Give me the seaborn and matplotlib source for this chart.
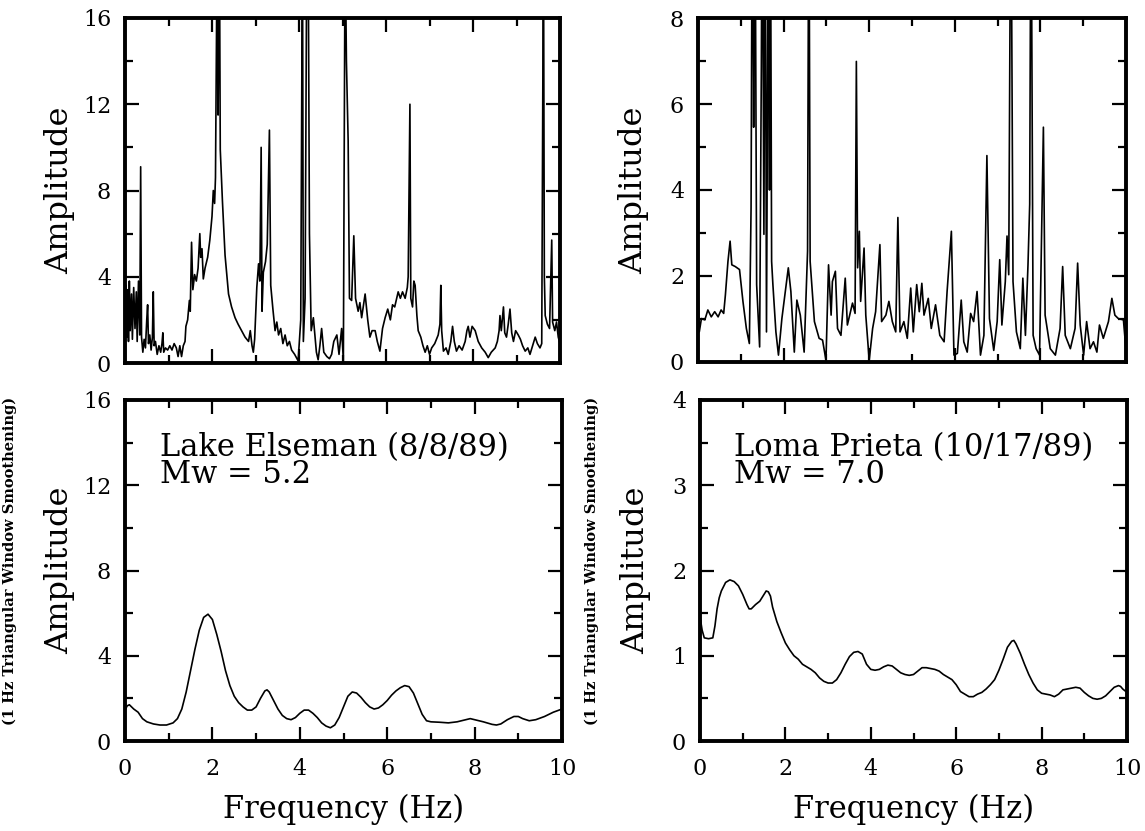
import numpy as np
import pandas as pd
import matplotlib
matplotlib.use("Agg")
import matplotlib.pyplot as plt
import seaborn as sns
from matplotlib.ticker import MultipleLocator

# ---------------- data ----------------
# Lake Elseman, raw Fourier amplitude spectrum (values above 16 are clipped peaks)
le_raw_freq = [0.00, 0.02, 0.04, 0.06, 0.08, 0.10, 0.12, 0.15, 0.17, 0.20, 0.23, 0.26, 0.28, 0.31, 0.34,
               0.36, 0.38, 0.41, 0.44, 0.47, 0.50, 0.52, 0.54, 0.57, 0.60, 0.63, 0.65, 0.67, 0.70, 0.74,
               0.78, 0.82, 0.85, 0.87, 0.89, 0.93, 0.98, 1.03, 1.08, 1.13, 1.18, 1.22, 1.26, 1.30, 1.34,
               1.38, 1.40, 1.44, 1.48, 1.50, 1.53, 1.56, 1.60, 1.64, 1.68, 1.72, 1.74, 1.77, 1.80, 1.84,
               1.90, 1.95, 2.00, 2.03, 2.06, 2.08, 2.12, 2.14, 2.17, 2.19, 2.24, 2.30, 2.38, 2.45, 2.53,
               2.60, 2.68, 2.76, 2.84, 2.88, 2.92, 2.95, 2.98, 3.03, 3.07, 3.10, 3.13, 3.15, 3.18, 3.23,
               3.27, 3.32, 3.35, 3.40, 3.45, 3.49, 3.53, 3.58, 3.63, 3.68, 3.73, 3.78, 3.83, 3.90, 3.98,
               4.04, 4.08, 4.10, 4.14, 4.18, 4.21, 4.24, 4.28, 4.33, 4.40, 4.44, 4.48, 4.52, 4.57, 4.64,
               4.70, 4.75, 4.80, 4.87, 4.92, 4.98, 5.02, 5.06, 5.09, 5.13, 5.16, 5.21, 5.26, 5.30, 5.36,
               5.40, 5.44, 5.52, 5.58, 5.63, 5.68, 5.75, 5.80, 5.86, 5.92, 5.98, 6.04, 6.10, 6.15, 6.20,
               6.28, 6.33, 6.38, 6.44, 6.49, 6.51, 6.55, 6.57, 6.61, 6.64, 6.67, 6.71, 6.74, 6.80, 6.85,
               6.90, 6.95, 7.00, 7.05, 7.12, 7.20, 7.24, 7.26, 7.28, 7.32, 7.38, 7.43, 7.49, 7.53, 7.57,
               7.62, 7.68, 7.75, 7.82, 7.86, 7.89, 7.93, 7.98, 8.05, 8.12, 8.20, 8.28, 8.35, 8.42, 8.51,
               8.56, 8.60, 8.62, 8.65, 8.70, 8.73, 8.77, 8.81, 8.85, 8.89, 8.93, 8.98, 9.04, 9.09, 9.14,
               9.20, 9.26, 9.31, 9.37, 9.43, 9.48, 9.54, 9.58, 9.62, 9.64, 9.66, 9.71, 9.76, 9.81, 9.83,
               9.88, 9.92, 9.96, 10.00]
le_raw_amp = [1.5, 3.6, 1.2, 3.4, 1.0, 3.8, 1.5, 3.2, 1.1, 3.5, 1.6, 3.3, 1.0, 3.8, 1.3,
              9.1, 1.2, 0.5, 1.1, 0.7, 2.0, 2.7, 0.9, 1.3, 0.6, 1.2, 3.3, 0.8, 1.0, 0.4,
              0.8, 0.5, 0.9, 1.4, 0.5, 0.7, 0.6, 0.8, 0.6, 0.9, 0.7, 0.3, 0.8, 0.3, 0.8,
              1.0, 1.7, 2.0, 2.9, 2.4, 5.6, 3.4, 4.1, 3.8, 4.4, 6.0, 4.9, 5.3, 3.9, 4.4,
              4.9, 5.7, 6.8, 8.0, 7.4, 8.6, 20.0, 11.5, 20.0, 9.9, 7.5, 5.0, 3.2, 2.6, 2.1,
              1.8, 1.5, 1.2, 1.0, 1.5, 0.8, 0.5, 1.1, 3.5, 4.6, 3.8, 10.0, 2.4, 4.2, 4.7,
              5.5, 10.8, 3.6, 2.5, 1.5, 1.9, 1.3, 1.6, 0.9, 1.3, 0.8, 1.0, 0.6, 0.4, 0.1,
              2.0, 20.0, 1.0, 3.0, 20.0, 20.0, 6.0, 1.5, 2.1, 0.5, 0.15, 0.8, 1.6, 0.5, 0.3,
              0.2, 0.4, 1.0, 1.3, 0.4, 1.6, 0.1, 20.0, 14.0, 10.3, 3.0, 2.9, 5.9, 3.0, 2.4,
              2.8, 2.1, 3.2, 2.0, 1.2, 1.5, 1.5, 1.0, 0.55, 1.6, 2.1, 2.5, 2.0, 2.7, 2.6,
              3.3, 3.0, 3.3, 3.0, 3.5, 4.0, 12.0, 3.0, 2.6, 3.8, 3.6, 2.2, 1.5, 1.2, 0.8,
              0.5, 0.8, 0.4, 0.7, 0.9, 1.3, 1.8, 3.6, 1.5, 0.55, 0.7, 0.4, 1.0, 1.7, 1.0,
              0.55, 0.8, 0.6, 1.0, 1.5, 1.7, 1.2, 1.7, 1.5, 1.0, 0.7, 0.5, 0.25, 0.5, 0.7,
              1.0, 1.5, 2.2, 1.5, 2.6, 1.4, 1.2, 1.8, 2.5, 1.4, 1.0, 1.5, 1.3, 1.1, 0.8,
              0.55, 0.7, 0.4, 0.8, 1.2, 0.9, 0.7, 0.9, 20.0, 4.0, 2.2, 1.8, 1.6, 5.7, 1.9,
              1.5, 1.9, 1.2, 0.9]

# Loma Prieta, raw Fourier amplitude spectrum (values above 8 are clipped peaks)
lp_raw_freq = [0.00, 0.03, 0.08, 0.16, 0.23, 0.31, 0.39, 0.47, 0.54, 0.60, 0.64, 0.70, 0.75, 0.79, 0.87,
               0.97, 1.05, 1.13, 1.20, 1.24, 1.27, 1.30, 1.33, 1.37, 1.44, 1.48, 1.50, 1.54, 1.57, 1.60,
               1.65, 1.67, 1.69, 1.72, 1.75, 1.82, 1.88, 1.96, 2.06, 2.11, 2.17, 2.25, 2.31, 2.39, 2.48,
               2.56, 2.59, 2.62, 2.72, 2.83, 2.91, 2.99, 3.05, 3.11, 3.14, 3.21, 3.26, 3.34, 3.44, 3.49,
               3.61, 3.67, 3.70, 3.73, 3.77, 3.80, 3.88, 3.92, 4.00, 4.08, 4.15, 4.25, 4.29, 4.39, 4.46,
               4.54, 4.62, 4.67, 4.72, 4.81, 4.89, 4.97, 5.03, 5.11, 5.17, 5.23, 5.28, 5.38, 5.45, 5.55,
               5.65, 5.75, 5.82, 5.92, 5.98, 6.06, 6.15, 6.21, 6.29, 6.37, 6.44, 6.52, 6.60, 6.68, 6.75,
               6.81, 6.91, 6.99, 7.05, 7.10, 7.18, 7.22, 7.26, 7.31, 7.36, 7.44, 7.53, 7.59, 7.65, 7.71,
               7.75, 7.78, 7.83, 7.90, 7.98, 8.07, 8.11, 8.23, 8.35, 8.46, 8.52, 8.58, 8.70, 8.81, 8.87,
               8.93, 9.01, 9.08, 9.16, 9.24, 9.32, 9.38, 9.47, 9.59, 9.67, 9.74, 9.82, 9.94, 10.00]
lp_raw_amp = [1.72, 0.70, 1.01, 0.98, 1.21, 1.05, 1.17, 1.05, 1.21, 1.13, 1.56, 2.34, 2.81, 2.26, 2.22,
              2.15, 1.41, 0.78, 0.43, 3.59, 12.0, 5.46, 12.0, 1.80, 0.35, 6.87, 12.0, 2.97, 12.0, 0.70,
              12.0, 4.00, 12.0, 2.34, 1.80, 0.70, 0.16, 1.01, 1.80, 2.19, 1.64, 0.23, 1.44, 1.09, 0.23,
              2.58, 12.0, 2.34, 0.94, 0.55, 0.51, 0.04, 2.26, 1.09, 1.87, 2.11, 0.78, 0.62, 1.95, 0.86,
              1.37, 1.13, 6.99, 2.19, 3.04, 1.41, 2.65, 1.09, 0.04, 0.78, 1.17, 2.73, 0.94, 1.09, 1.41,
              0.94, 0.70, 3.36, 0.70, 0.94, 0.55, 1.72, 0.70, 1.80, 1.17, 1.83, 1.09, 1.48, 0.78, 1.33,
              0.62, 0.47, 1.64, 3.04, 0.16, 0.20, 1.44, 0.47, 0.23, 1.13, 0.94, 1.64, 0.16, 0.62, 4.80,
              1.01, 0.27, 0.94, 2.38, 0.86, 1.87, 2.93, 2.03, 12.0, 1.87, 0.70, 0.31, 1.95, 0.62, 2.26,
              3.67, 12.0, 0.62, 0.31, 0.16, 5.46, 1.09, 0.31, 0.16, 0.78, 2.22, 0.62, 0.31, 0.78, 2.30,
              0.86, 0.16, 0.94, 0.31, 0.47, 0.23, 0.86, 0.55, 0.94, 1.48, 1.09, 1.01, 0.98, 0.27]

# Lake Elseman, 1 Hz triangular-window smoothed spectrum
le_smooth_freq = [0.00, 0.05, 0.10, 0.20, 0.30, 0.40, 0.50, 0.65, 0.80, 0.95, 1.10, 1.20, 1.30, 1.40,
                  1.50, 1.60, 1.70, 1.80, 1.90, 2.00, 2.10, 2.20, 2.30, 2.40, 2.50, 2.60, 2.70, 2.80,
                  2.90, 3.00, 3.10, 3.20, 3.25, 3.30, 3.40, 3.50, 3.60, 3.70, 3.80, 3.90, 4.00, 4.10,
                  4.20, 4.30, 4.40, 4.50, 4.60, 4.70, 4.80, 4.90, 5.00, 5.10, 5.20, 5.30, 5.40, 5.50,
                  5.60, 5.70, 5.80, 5.90, 6.00, 6.10, 6.20, 6.30, 6.40, 6.50, 6.60, 6.70, 6.80, 6.90,
                  7.00, 7.20, 7.40, 7.60, 7.80, 7.90, 8.00, 8.20, 8.40, 8.50, 8.60, 8.75, 8.90, 9.00,
                  9.10, 9.25, 9.40, 9.60, 9.80, 10.00]
le_smooth_amp = [1.45, 1.65, 1.70, 1.50, 1.35, 1.05, 0.90, 0.80, 0.75, 0.75, 0.85, 1.05, 1.50, 2.30,
                 3.30, 4.30, 5.20, 5.80, 5.95, 5.70, 5.00, 4.20, 3.30, 2.60, 2.10, 1.80, 1.60, 1.45,
                 1.45, 1.60, 2.00, 2.35, 2.40, 2.30, 1.90, 1.50, 1.20, 1.05, 1.00, 1.10, 1.30, 1.45,
                 1.45, 1.30, 1.10, 0.85, 0.70, 0.62, 0.75, 1.10, 1.60, 2.10, 2.30, 2.25, 2.05, 1.80,
                 1.60, 1.50, 1.55, 1.70, 1.90, 2.15, 2.35, 2.50, 2.60, 2.55, 2.25, 1.75, 1.25, 0.95,
                 0.90, 0.88, 0.85, 0.90, 1.00, 1.05, 1.00, 0.90, 0.78, 0.75, 0.80, 1.00, 1.15, 1.15,
                 1.05, 0.95, 1.00, 1.15, 1.35, 1.50]

# Loma Prieta, 1 Hz triangular-window smoothed spectrum
lp_smooth_freq = [0.00, 0.05, 0.10, 0.20, 0.30, 0.35, 0.40, 0.45, 0.50, 0.60, 0.70, 0.80, 0.90, 1.00,
                  1.10, 1.15, 1.20, 1.30, 1.40, 1.45, 1.50, 1.55, 1.60, 1.65, 1.70, 1.80, 1.90, 2.00,
                  2.10, 2.20, 2.30, 2.40, 2.50, 2.60, 2.70, 2.80, 2.90, 3.00, 3.10, 3.20, 3.30, 3.40,
                  3.50, 3.60, 3.70, 3.80, 3.90, 4.00, 4.10, 4.20, 4.30, 4.40, 4.50, 4.60, 4.70, 4.80,
                  4.90, 5.00, 5.10, 5.20, 5.30, 5.40, 5.50, 5.60, 5.70, 5.80, 5.90, 6.00, 6.10, 6.20,
                  6.30, 6.40, 6.50, 6.60, 6.70, 6.80, 6.90, 7.00, 7.10, 7.20, 7.30, 7.35, 7.40, 7.50,
                  7.60, 7.70, 7.80, 7.90, 8.00, 8.10, 8.20, 8.30, 8.40, 8.50, 8.60, 8.70, 8.80, 8.90,
                  9.00, 9.10, 9.20, 9.30, 9.40, 9.50, 9.60, 9.70, 9.80, 9.85, 9.90, 10.00]
lp_smooth_amp = [1.46, 1.30, 1.21, 1.20, 1.21, 1.35, 1.55, 1.68, 1.76, 1.86, 1.89, 1.87, 1.82, 1.72,
                 1.60, 1.55, 1.55, 1.60, 1.64, 1.68, 1.72, 1.76, 1.75, 1.70, 1.57, 1.40, 1.27, 1.15,
                 1.07, 1.00, 0.96, 0.90, 0.87, 0.84, 0.80, 0.74, 0.70, 0.68, 0.68, 0.72, 0.80, 0.90,
                 0.99, 1.04, 1.05, 1.02, 0.90, 0.84, 0.83, 0.84, 0.87, 0.89, 0.88, 0.84, 0.80, 0.78,
                 0.77, 0.78, 0.82, 0.86, 0.86, 0.85, 0.84, 0.82, 0.78, 0.75, 0.72, 0.66, 0.58, 0.55,
                 0.52, 0.52, 0.55, 0.57, 0.61, 0.66, 0.72, 0.83, 0.96, 1.10, 1.17, 1.18, 1.14, 1.03,
                 0.90, 0.78, 0.68, 0.60, 0.56, 0.55, 0.54, 0.52, 0.55, 0.60, 0.61, 0.62, 0.63, 0.62,
                 0.57, 0.53, 0.50, 0.49, 0.50, 0.53, 0.58, 0.63, 0.65, 0.64, 0.61, 0.57]

freq_ticks = [0, 2, 4, 6, 8, 10]
event_labels = ["Lake Elseman (8/8/89)\nMw = 5.2", "Loma Prieta (10/17/89)\nMw = 7.0"]
smooth_note = "(1 Hz Triangular Window Smoothening)"

# ---------------- styling ----------------
sns.set_theme(style="ticks")
plt.rcParams['font.family'] = ['DejaVu Serif']
plt.rcParams['mathtext.fontset'] = 'dejavuserif'
plt.rcParams['text.color'] = 'black'
plt.rcParams['axes.labelcolor'] = 'black'
plt.rcParams['xtick.color'] = 'black'
plt.rcParams['ytick.color'] = 'black'

fig = plt.figure(figsize=(11.45, 8.31), dpi=100)

ax_tl = fig.add_axes([125/1145, 1-363/831, 435/1145, 345/831])
ax_tr = fig.add_axes([698/1145, 1-362/831, 428/1145, 344/831])
ax_bl = fig.add_axes([125/1145, 1-741/831, 437/1145, 341/831])
ax_br = fig.add_axes([700/1145, 1-741/831, 427/1145, 341/831])

panels = [
    (ax_tl, le_raw_freq, le_raw_amp, 16, 4, 2, False),
    (ax_tr, lp_raw_freq, lp_raw_amp, 8, 2, 1, False),
    (ax_bl, le_smooth_freq, le_smooth_amp, 16, 4, 2, True),
    (ax_br, lp_smooth_freq, lp_smooth_amp, 4, 1, 0.5, True),
]

for ax, fx, ay, ymax, ymaj, ymin, bottom in panels:
    df = pd.DataFrame({"Frequency (Hz)": fx, "Amplitude": ay})
    sns.lineplot(data=df, x="Frequency (Hz)", y="Amplitude", ax=ax, color="black",
                 linewidth=1.2, estimator=None, sort=False)
    ax.set_xlim(0, 10)
    ax.set_ylim(0, ymax)
    ax.xaxis.set_major_locator(MultipleLocator(2))
    ax.xaxis.set_minor_locator(MultipleLocator(1))
    ax.yaxis.set_major_locator(MultipleLocator(ymaj))
    ax.yaxis.set_minor_locator(MultipleLocator(ymin))
    ax.tick_params(which="both", direction="in", top=True, right=True, colors="black",
                   width=1.6)
    ax.tick_params(which="major", length=10, labelsize=16, pad=10)
    ax.tick_params(which="minor", length=6)
    ax.tick_params(axis="x", which="major", pad=12)
    for sp in ax.spines.values():
        sp.set_linewidth(2.8)
        sp.set_color("black")
    ax.set_facecolor("white")
    ax.set_ylabel("Amplitude", fontsize=23, color="black")
    ax.yaxis.set_label_coords(-0.115, 0.5)
    if bottom:
        ax.set_xticks(freq_ticks)
        ax.set_xticklabels([str(t) for t in freq_ticks])
        ax.set_xlabel("Frequency (Hz)", fontsize=22, color="black")
        ax.xaxis.set_label_coords(0.5, -0.155)
    else:
        ax.set_xlabel("")
        ax.tick_params(axis="x", labelbottom=False)

ax_bl.text(0.08, 0.905, event_labels[0], transform=ax_bl.transAxes, fontsize=22,
           va="top", ha="left", linespacing=0.82, color="black")
ax_br.text(0.08, 0.905, event_labels[1], transform=ax_br.transAxes, fontsize=22,
           va="top", ha="left", linespacing=0.82, color="black")

fig.text(10/1145, 1-561/831, smooth_note, rotation=90, fontsize=10.5, fontweight="bold",
         va="center", ha="center", color="black")
fig.text(592/1145, 1-561/831, smooth_note, rotation=90, fontsize=10.5, fontweight="bold",
         va="center", ha="center", color="black")

fig.patch.set_facecolor("white")
fig.savefig("out.png", dpi=100, facecolor="white")
